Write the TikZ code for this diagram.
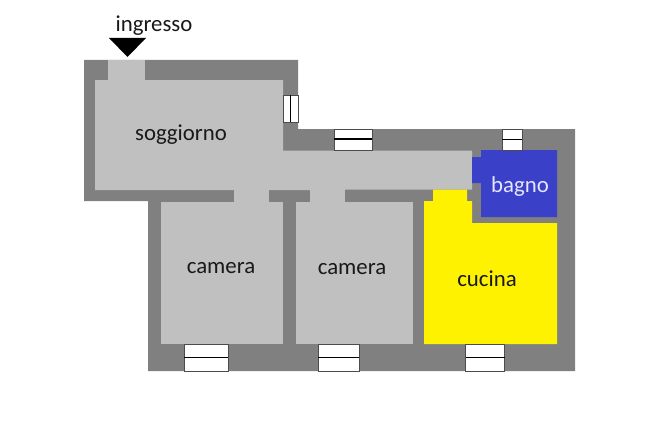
\documentclass[tikz,border=0pt]{standalone}
\usepackage{fontspec}
\setmainfont{Carlito}
\definecolor{wallc}{HTML}{808080}
\definecolor{roomc}{HTML}{C0C0C0}
\definecolor{bluec}{HTML}{3B40C8}
\definecolor{yellowc}{HTML}{FFF200}
\tikzset{
  wall/.style={fill=wallc,draw=none},
  room/.style={fill=roomc,draw=none},
  kitchen/.style={fill=yellowc,draw=none},
  bath/.style={fill=bluec,draw=none},
  winframe/.style={fill=white,draw=black!70,line width=0.6pt},
  winbar/.style={draw=black,line width=1.1pt},
  label/.style={font=\fontsize{22.8}{26}\selectfont,text=black!90,inner sep=0pt,anchor=center}
}
\newcommand{\winh}[3]{% x0 x1 : horizontal-bar window, y0 in #3
  \draw[winframe] (#1,#3) rectangle (#2,#3+27);
  \draw[winbar] (#1,#3+13.5) -- (#2,#3+13.5);}
\begin{document}
\begin{tikzpicture}[x=1pt,y=-1pt]
\useasboundingbox (0,0) rectangle (650,444);
\fill[white] (0,0) rectangle (650,444);
% walls
\fill[wall] (84,60) -- (298,60) -- (298,129) -- (575,129) -- (575,371) -- (148,371) -- (148,201) -- (84,201) -- cycle;
% soggiorno and corridor
\fill[room] (95,80) -- (283,80) -- (283,150.5) -- (472,150.5) -- (472,189.5) -- (345,189.5) -- (345,190) -- (95,190) -- cycle;
% doors
\fill[room] (108,60) rectangle (145,80);
\fill[room] (234,190) rectangle (269,202);
\fill[room] (310,189) rectangle (345,202);
% camere
\fill[room] (161,202) rectangle (283,344);
\fill[room] (296,202) rectangle (413,344);
% cucina
\fill[kitchen] (433,189.5) -- (467,189.5) -- (467,201) -- (472,201) -- (472,223) -- (557,223) -- (557,344) -- (424,344) -- (424,201) -- (433,201) -- cycle;
% bagno
\fill[bath] (481,150) -- (557,150) -- (557,217) -- (481,217) -- (481,183) -- (472,183) -- (472,157) -- (481,157) -- cycle;
% windows
\draw[winframe] (283,95) rectangle (298,122);
\draw[winbar] (290.5,95) -- (290.5,122);
\draw[winframe] (334,129) rectangle (372,150.5);
\draw[winbar] (334,139) -- (372,139);
\draw[winframe] (502,129) rectangle (522,150.5);
\draw[winbar] (502,139.5) -- (522,139.5);
\winh{184}{228}{344}
\winh{318}{359}{344}
\winh{465.5}{504.5}{344}
% entrance
\fill[black] (109,38) -- (146,38) -- (127.5,57) -- cycle;
% labels
\node[label] (ingresso) at (154,26) {ingresso};
\node[label] (soggiorno) at (181,135) {soggiorno};
\node[label] (camera1) at (221,268) {camera};
\node[label] (camera2) at (352,269) {camera};
\node[label] (cucina) at (487,279) {cucina};
\node[label,text=white!90!blue] (bagno) at (520,187) {bagno};
\end{tikzpicture}
\end{document}
